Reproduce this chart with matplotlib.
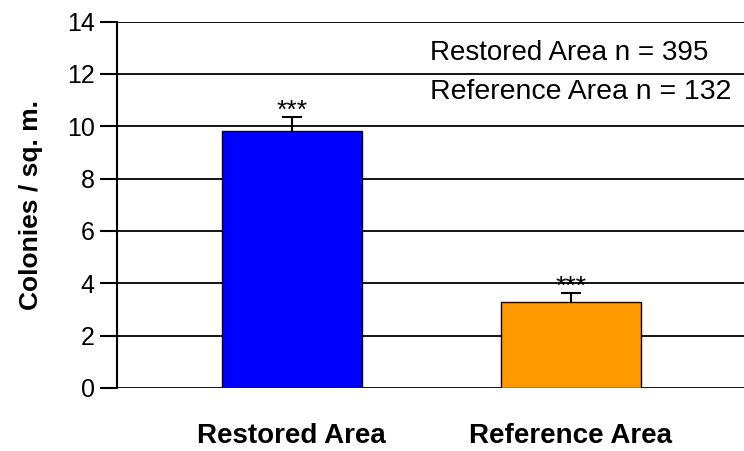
import matplotlib.pyplot as plt

plt.rcParams['font.family'] = ['Liberation Sans', 'DejaVu Sans']

# colony density per site
areas = ['Restored Area', 'Reference Area']
density = [9.83, 3.30]
sem = [0.54, 0.34]
colors = ['#0000ff', '#ff9900']
sample_n = [395, 132]

fig = plt.figure(figsize=(7.44, 4.51), dpi=100)
ax = fig.add_axes([0.157, 0.14, 0.843, 0.812])

x = range(len(areas))
ax.bar(x, density, width=0.5, color=colors, edgecolor='black', linewidth=1.0, zorder=3)
_, caps, _ = ax.errorbar(x, density, yerr=[[0, 0], sem], fmt='none', ecolor='black',
                         elinewidth=1.5, capsize=7, capthick=1.5, zorder=4)
caps[0].set_visible(False)  # upper whisker only
for xi, v, e in zip(x, density, sem):
    ax.text(xi, v + e - 0.05, '***', ha='center', va='baseline', fontsize=19)

ax.set_ylim(0, 14)
ax.set_xlim(-0.627, 1.62)
ax.set_yticks(range(0, 15, 2))
ax.yaxis.grid(True, color='black', linewidth=1.3, zorder=0)
ax.set_axisbelow(True)

for s in ['top', 'right', 'bottom']:
    ax.spines[s].set_visible(False)
ax.spines['left'].set_linewidth(1.5)
ax.tick_params(axis='y', length=12, width=1.5, labelsize=18, pad=4)
ax.tick_params(axis='x', length=0, labelsize=20, pad=25)
ax.set_xticks(list(x))
ax.set_xticklabels(areas, fontweight='bold')
ax.set_ylabel('Colonies / sq. m.', fontsize=19, fontweight='bold', labelpad=17)

ax.text(0.495, 12.8, f'Restored Area n = {sample_n[0]}', ha='left', va='center', fontsize=20)
ax.text(0.495, 11.3, f'Reference Area n = {sample_n[1]}', ha='left', va='center', fontsize=20.5)

fig.savefig('out.png', dpi=100)
